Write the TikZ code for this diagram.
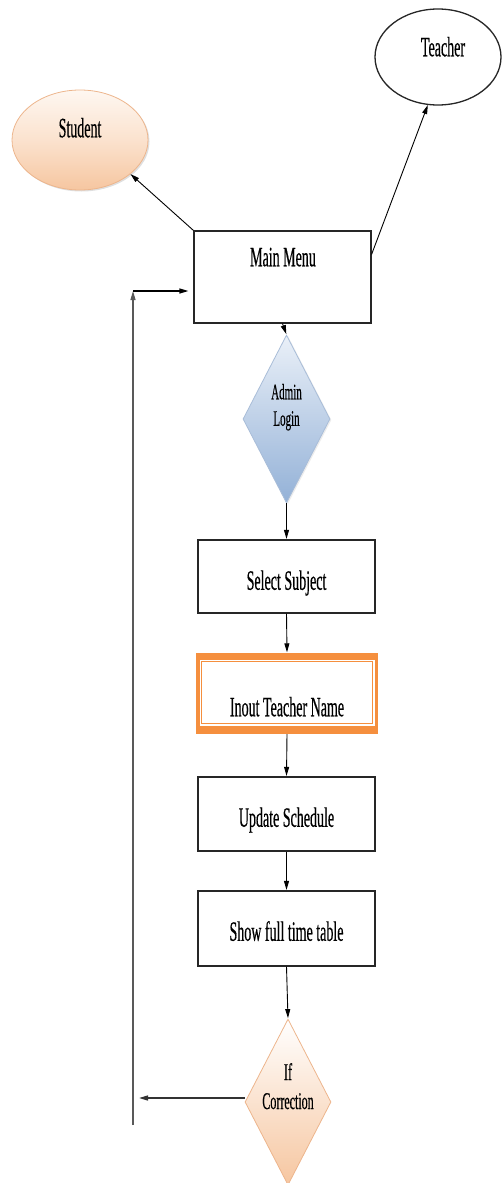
\documentclass[tikz,border=0pt]{standalone}
\usepackage{fontspec}
\setmainfont{Liberation Serif}[FakeStretch=0.5, FakeBold=0.4]
\usetikzlibrary{shapes.geometric,arrows.meta,shadows}

\definecolor{peachtop}{HTML}{FEF7F1}
\definecolor{peachmid}{HTML}{FBE2CE}
\definecolor{peachbot}{HTML}{F6C6A0}
\definecolor{peachline}{HTML}{EDB58C}
\definecolor{bluetop}{HTML}{EAF0F8}
\definecolor{bluebot}{HTML}{93B1D7}
\definecolor{blueline}{HTML}{A9BDD8}
\definecolor{accent}{HTML}{F58F3E}

\tikzset{
  txt/.style={inner sep=0pt, font=\fontsize{28}{30}\selectfont, text height=18.5pt, text depth=0pt},
  small/.style={inner sep=0pt, font=\fontsize{22}{24}\selectfont, text height=14.5pt, text depth=0pt},
  mid/.style={inner sep=0pt, font=\fontsize{24}{26}\selectfont, text height=16pt, text depth=0pt},
  box/.style={draw=black!85, line width=1.2pt, minimum width=177pt, inner sep=0pt, fill=white},
  actor/.style={ellipse, inner sep=0pt},
  decision/.style={diamond, inner sep=0pt, line width=0.8pt},
  arr/.style={-{Triangle[length=9pt,width=5pt]}, line width=0.9pt, draw=black},
  flow/.style={arr, shorten >=0.5pt}
}

\begin{document}
\begin{tikzpicture}[x=1pt, y=-1pt]
\useasboundingbox (0,0) rectangle (501,1183);

% actors
\node[actor, draw=peachline, line width=0.8pt, top color=peachtop, bottom color=peachbot, middle color=peachmid,
      drop shadow={opacity=0.25, shadow xshift=1.5pt, shadow yshift=-1.5pt},
      minimum width=136pt, minimum height=100pt,
      label={[txt, yshift=12pt]center:Student}] (stu) at (80,140) {};
\node[actor, draw=black!85, line width=1.3pt, fill=white,
      minimum width=126pt, minimum height=96pt,
      label={[txt, xshift=5pt, yshift=10pt]center:Teacher}] (tea) at (438,57) {};

% main flow
\node[box, minimum height=92pt, label={[txt, xshift=0.5pt, yshift=20pt]center:Main Menu}] (mm) at (282.5,277) {};

\node[decision, draw=blueline, top color=bluetop, bottom color=bluebot,
      drop shadow={opacity=0.15, shadow xshift=1.5pt, shadow yshift=-1pt},
      minimum width=87pt, minimum height=168pt,
      label={[small, yshift=27pt]center:Admin},
      label={[small, yshift=0.5pt]center:Login}] (adm) at (286.5,419) {};

\node[box, minimum height=73pt, label={[txt, yshift=-4pt]center:Select Subject}] (sel) at (286.5,576.5) {};

\node[minimum width=182pt, minimum height=81pt, inner sep=0pt, fill=accent,
      path picture={
        \fill[white] ([shift={(3.5pt,-7pt)}]path picture bounding box.north west)
          rectangle ([shift={(-3.5pt,8pt)}]path picture bounding box.south east);
        \draw[accent, line width=1pt] ([shift={(5.3pt,-8.8pt)}]path picture bounding box.north west)
          rectangle ([shift={(-5.3pt,10.2pt)}]path picture bounding box.south east);
      },
      label={[txt, yshift=-13.5pt]center:Inout Teacher Name}] (inp) at (287,693.5) {};

\node[box, minimum height=74pt, label={[txt, yshift=-3.5pt]center:Update Schedule}] (upd) at (286.5,814) {};

\node[box, minimum height=75pt, label={[txt, yshift=-3pt]center:Show full time table}] (shw) at (286.5,928.5) {};

\node[decision, draw=peachline, top color=white, bottom color=peachbot,
      minimum width=86pt, minimum height=166pt,
      label={[mid, yshift=30pt]center:If},
      label={[mid, yshift=1pt]center:Correction}] (cor) at (288,1102) {};

% loop-back coordinates
\coordinate (back) at (139,1098);
\coordinate (loopbot) at (133,1125);
\coordinate (looptop) at (133,291);

% connectors
\draw[arr] (mm.north west) -- (stu.-34);
\draw[arr] ([yshift=-24pt]mm.north east) -- (tea.-102);
\draw[flow] (mm.south) -- (adm.north);
\draw[flow] (adm.south) -- (sel.north);
\draw[flow] (sel.south) -- (inp.north);
\draw[flow] (inp.south) -- (upd.north);
\draw[flow] (upd.south) -- (shw.north);
\draw[flow] (shw.south) -- (cor.north);
\draw[arr, line width=1.4pt, draw=black!80] (cor.west |- back) -- (back);
\draw[arr, draw=black!65, line width=1.2pt] (loopbot) -- (looptop);
\draw[arr, line width=1.2pt, shorten >=5pt] (looptop) -- (mm.west |- looptop);
\end{tikzpicture}
\end{document}
